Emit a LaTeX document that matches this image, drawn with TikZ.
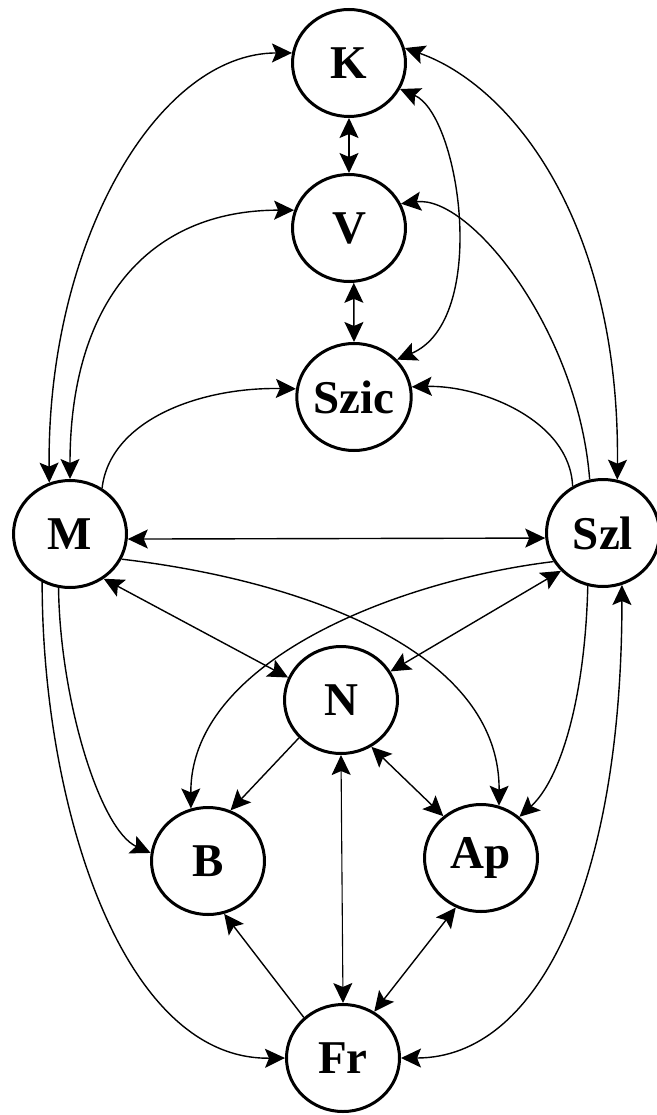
\documentclass[tikz,border=0pt]{standalone}
\usepackage{fontspec}
\setmainfont{Liberation Serif}
\usetikzlibrary{shapes.geometric,arrows.meta}
\begin{document}
\begin{tikzpicture}[x=1pt,y=-1pt,
  state/.style={ellipse,draw,line width=3pt,minimum width=113pt,minimum height=107pt,inner sep=0pt,
    font=\fontsize{47}{47}\selectfont\bfseries},
  link/.style={line width=1.4pt},
  thinlink/.style={line width=1.1pt},
  >={Stealth[length=20pt,width=19pt,inset=4pt]}]
\fill[white] (0,0) rectangle (656,1115);
\useasboundingbox (0,0) rectangle (656,1115);

\node[state] (K) at (349,63) {K};
\node[state] (V) at (349,228) {V};
\node[state] (Szic) at (354,397) {Szic};
\node[state] (M) at (70,534) {M};
\node[state] (Szl) at (603,533) {Szl};
\node[state] (N) at (341,700) {N};
\node[state] (B) at (208,861) {B};
\node[state] (Ap) at (481,858) {Ap};
\node[state] (Fr) at (343,1058) {Fr};

\draw[thinlink,<->] (K.south) -- (V.north);
\draw[link,<->] (V.-85) -- (Szic.north);
\draw[link,<->] (K.-27) .. controls (460,115) and (490,320) .. (Szic.41);
\draw[link,<->] (K.170) .. controls (157,53) and (47,243) .. (M.112);
\draw[link,<->] (K.15) .. controls (510,85) and (620,220) .. (Szl.75);
\draw[link,<->] (V.162) .. controls (148,210) and (70,303) .. (M.90);
\draw[link,->] (Szl.104) .. controls (578,330) and (470,195) .. (V.25);
\draw[link,->] (M.55) .. controls (110,420) and (200,387) .. (Szic.172);
\draw[link,->] (Szl.123) .. controls (570,420) and (480,385) .. (Szic.10);
\draw[link,<->] (M.-5) -- (Szl.185);
\draw[link,->] (M.-26) .. controls (300,580) and (500,650) .. (Ap.71);
\draw[link,<->] (M.-53) -- (N.157);
\draw[link,->] (Szl.210) .. controls (400,580) and (190,660) .. (B.108);
\draw[link,<->] (Szl.222) -- (N.30);
\draw[link,->] (N.222) -- (B.66);
\draw[link,<->] (N.-57) -- (Ap.132);
\draw[thinlink,<->] (N.south) -- (Fr.north);
\draw[link,->] (Fr.134) -- (B.-73);
\draw[link,<->] (Ap.243) -- (Fr.56);
\draw[link,->] (M.258) .. controls (60,700) and (100,830) .. (B.172);
\draw[link,->] (M.240) .. controls (42,800) and (120,1060) .. (Fr.west);
\draw[link,->] (Szl.254) .. controls (585,700) and (560,780) .. (Ap.47);
\draw[link,<->] (Fr.east) .. controls (540,1058) and (622,880) .. (Szl.-70);
\end{tikzpicture}
\end{document}
